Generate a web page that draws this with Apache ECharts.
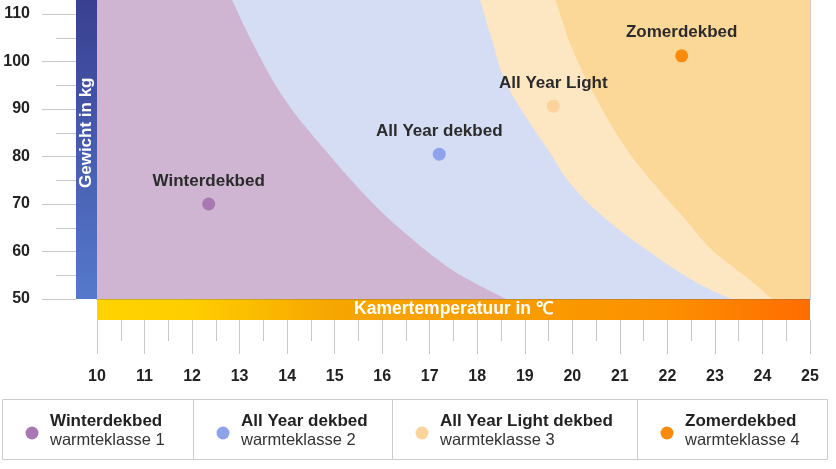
<!DOCTYPE html>
<html><head><meta charset="utf-8">
<script src="https://cdn.jsdelivr.net/npm/echarts@6/dist/echarts.min.js"></script>
<style>html,body{margin:0;padding:0;background:#fff}#c{width:836px;height:469px}</style>
</head><body><div id="c"></div>
<script>
// ---- data ----
const pointLabels = ['Winterdekbed', 'All Year dekbed', 'All Year Light', 'Zomerdekbed'];
const legendTitles = ['Winterdekbed', 'All Year dekbed', 'All Year Light dekbed', 'Zomerdekbed'];
const legendSubtitles = ['warmteklasse 1', 'warmteklasse 2', 'warmteklasse 3', 'warmteklasse 4'];
const pointX = [12.35, 17.2, 19.6, 22.3];
const pointY = [70, 80.5, 90.6, 101.2];
// zone boundaries [temperature, weight]
const zoneWinter = [[10,400],[12.51,120],[12.84,112.95],[13.35,102.42],[13.96,91.89],[14.80,81.37],[15.74,70.84],[16.48,63.89],[17.38,56.74],[17.95,53.37],[18.61,50]];
const zoneAllYear = [[10,400],[17.85,120],[18.06,112.95],[18.31,104.5],[18.58,96.1],[19.00,88.7],[19.49,81.4],[19.95,74.4],[20.65,67.3],[21.57,60.3],[22.62,53.4],[23.35,50]];
const zoneLight = [[10,400],[19.38,120],[19.64,112.95],[20.01,102.4],[20.52,91.9],[21.15,81.4],[21.70,74.4],[22.33,67.3],[22.94,60.3],[23.74,54.0],[24.2,50]];
const zoneSummer = [[10,120],[25,120]];
const xAxisName = 'Kamertemperatuur in ℃';
const yAxisName = 'Gewicht in kg';

// ---- styles ----
const FONT = '"Liberation Sans", Arial, sans-serif';
const zoneColors = ['#D0B5D3', '#D5DDF5', '#FDE7C3', '#FCD898'];
const dotColors = ['#A878B2', '#8FA3EC', '#FCD49B', '#F98A0B'];

const chart = echarts.init(document.getElementById('c'));

const zoneSeries = [
  [zoneSummer, zoneColors[3]],
  [zoneLight, zoneColors[2]],
  [zoneAllYear, zoneColors[1]],
  [zoneWinter, zoneColors[0]]
].map(([d, c]) => ({
  type: 'line', data: d, smooth: 0.4, symbol: 'none', silent: true,
  lineStyle: { width: 0 }, itemStyle: { color: c },
  areaStyle: { color: c, opacity: 1, origin: 'start' }, z: 1
}));

const pointSeries = pointLabels.map((n, i) => ({
  type: 'scatter', name: legendTitles[i], data: [[pointX[i], pointY[i]]],
  symbolSize: 13, itemStyle: { color: dotColors[i], opacity: 1 },
  label: { show: true, position: 'top', distance: 8, formatter: n, color: '#2b2b2b',
    fontSize: 17, fontWeight: 'bold', fontFamily: FONT },
  z: 3
}));

const boxEdges = [2.5, 193.5, 392.5, 637.5, 827.5];
const legendEls = [
  { type: 'rect', shape: { x: boxEdges[0], y: 399.5, width: boxEdges[4] - boxEdges[0], height: 60 },
    style: { fill: '#fff', stroke: '#cccccc', lineWidth: 1 }, silent: true }
];
for (let i = 1; i < 4; i++) {
  legendEls.push({ type: 'line', shape: { x1: boxEdges[i], y1: 399.5, x2: boxEdges[i], y2: 459.5 },
    style: { stroke: '#cccccc', lineWidth: 1 }, silent: true });
}
legendTitles.forEach((t, i) => {
  const left = Math.floor(boxEdges[i]);
  legendEls.push({ type: 'circle', shape: { cx: left + 30, cy: 433, r: 6.5 }, style: { fill: dotColors[i] }, silent: true });
  legendEls.push({ type: 'text', x: left + 48, y: 421,
    style: { text: t, fill: '#222', font: 'bold 17px ' + FONT, align: 'left', verticalAlign: 'middle', textAlign: 'left', textVerticalAlign: 'middle' }, silent: true });
  legendEls.push({ type: 'text', x: left + 48, y: 440,
    style: { text: legendSubtitles[i], fill: '#333', font: '16.5px ' + FONT, align: 'left', verticalAlign: 'middle', textAlign: 'left', textVerticalAlign: 'middle' }, silent: true });
});

const option = {
  animation: false,
  grid: { left: 97, right: 26, top: -33.5, bottom: 170, containLabel: false, outerBoundsMode: 'none' },
  xAxis: [
    { type: 'value', min: 10, max: 25, interval: 1, position: 'bottom',
      axisLine: { show: true, lineStyle: { color: 'rgba(110,110,110,0.35)', width: 1 } },
      axisTick: { show: false }, axisLabel: { show: false }, splitLine: { show: false }, z: 4 },
    { type: 'value', min: 10, max: 25, interval: 1, position: 'bottom', offset: 21,
      axisLine: { show: false },
      axisTick: { show: true, length: 34, lineStyle: { color: '#c8c8c8', width: 1 } },
      minorTick: { show: true, splitNumber: 2, length: 21, lineStyle: { color: '#c8c8c8', width: 1 } },
      axisLabel: { margin: 49, color: '#222', fontSize: 16, fontWeight: 'bold', fontFamily: FONT },
      splitLine: { show: false },
      name: xAxisName, nameLocation: 'middle', nameGap: -10.5, nameMoveOverlap: false,
      nameTextStyle: { color: '#fff', fontSize: 17.5, fontWeight: 'bold', fontFamily: FONT, verticalAlign: 'middle' },
      z: 4 }
  ],
  yAxis: [
    { type: 'value', min: 50, max: 120, interval: 10, position: 'left', offset: 21,
      axisLine: { show: false },
      axisTick: { show: true, length: 34, lineStyle: { color: '#c8c8c8', width: 1 } },
      minorTick: { show: true, splitNumber: 2, length: 20, lineStyle: { color: '#c8c8c8', width: 1 } },
      axisLabel: { margin: 46, color: '#222', fontSize: 16, fontWeight: 'bold', fontFamily: FONT, showMaxLabel: false },
      splitLine: { show: false },
      name: yAxisName, nameLocation: 'middle', nameGap: -10, nameRotate: 90, nameMoveOverlap: false,
      nameTextStyle: { color: '#fff', fontSize: 17, fontWeight: 'bold', fontFamily: FONT, verticalAlign: 'middle', align: 'center' },
      z: 4 },
    { type: 'value', min: 50, max: 120, interval: 10, position: 'right',
      axisLine: { show: true, lineStyle: { color: 'rgba(110,110,110,0.35)', width: 1 } },
      axisTick: { show: false }, axisLabel: { show: false }, splitLine: { show: false }, z: 4 }
  ],
  graphic: [
    { type: 'rect', shape: { x: 76, y: -34, width: 21, height: 333 }, z: 2, silent: true,
      style: { fill: new echarts.graphic.LinearGradient(0, 0, 0, 1, [
        { offset: 0, color: '#36398A' }, { offset: 1, color: '#5579CB' }]) } },
    { type: 'rect', shape: { x: 97, y: 299, width: 713, height: 21 }, z: 2, silent: true,
      style: { fill: new echarts.graphic.LinearGradient(0, 0, 1, 0, [
        { offset: 0, color: '#FFD300' }, { offset: 0.13, color: '#FFCE00' },
        { offset: 0.33, color: '#F6A600' }, { offset: 0.6, color: '#F99C00' },
        { offset: 0.8, color: '#FC9000' }, { offset: 1, color: '#FF6C00' }]) } }
  ].concat(legendEls),
  series: zoneSeries.concat(pointSeries)
};
chart.setOption(option);
</script>
</body></html>
